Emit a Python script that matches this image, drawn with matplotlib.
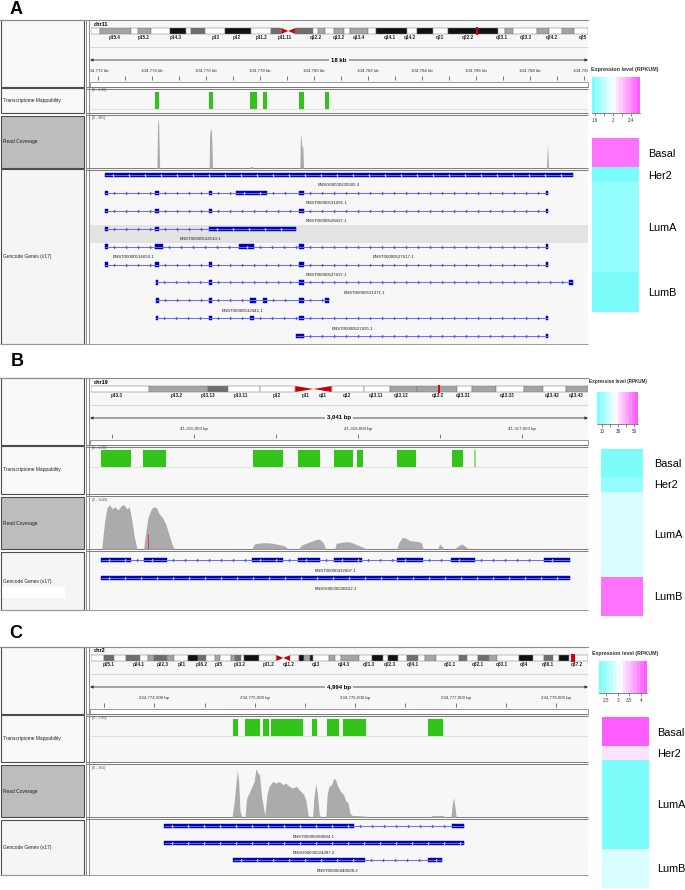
import numpy as np
import matplotlib
matplotlib.use("Agg")
import matplotlib.pyplot as plt
from matplotlib.colors import LinearSegmentedColormap, Normalize
from matplotlib.patches import Rectangle
from matplotlib.path import Path
from matplotlib.cm import ScalarMappable

plt.rcParams['font.family'] = ['Liberation Sans', 'DejaVu Sans']

W, H = 685, 890
SUBTYPES = ['Basal', 'Her2', 'LumA', 'LumB']

# =============================================================================
# PANEL A  (chr11, positions in kb)
# =============================================================================
A_CHROM = 'chr11'
A_VIEW = (104771.72, 104790.16)
A_SPAN = '18 kb'
A_RULER_MINOR = list(range(104772, 104791, 1))
A_RULER_MAJOR = list(range(104772, 104791, 2))
A_BAND_EDGES = [0, .019, .080, .095, .121, .159, .192, .202, .229, .269, .322, .363, .383, .411,
                .446, .457, .471, .489, .509, .522, .558, .573, .635, .655, .688, .719, .818,
                .834, .850, .898, .921, .948, .972, 1.0]
A_BAND_STAIN = 'wgwgwkwdwkwdcdwgwgwgwkwkwkwgwgwgw'
A_MARK = (0.775, 0.779)
A_BAND_NAMES = ['p15.4', 'p15.2', 'p14.3', 'p13', 'p12', 'p11.2', 'p11.11', 'q12.2', 'q13.2',
                'q13.4', 'q14.1', 'q14.2', 'q21', 'q22.2', 'q23.1', 'q23.3', 'q24.2', 'q25']
A_BAND_POS = [.048, .106, .170, .250, .294, .343, .390, .452, .498, .538, .602, .641, .701,
              .759, .826, .874, .927, .989]

A_MAP = [(104774.14, 104774.27), (104776.13, 104776.28), (104777.65, 104777.90),
         (104778.13, 104778.28), (104779.46, 104779.65), (104780.42, 104780.57)]
A_MAP_SCORE = [1, 1, 1, 1, 1, 1]

A_COV_MAX = 465
A_COV_POS = [104771.8, 104774.20, 104774.22, 104774.24, 104774.26, 104774.28, 104774.30,
             104776.13, 104776.15, 104776.18, 104776.21, 104776.23, 104776.26,
             104777.62, 104777.67, 104777.74, 104777.80,
             104778.20, 104778.22, 104778.24,
             104779.49, 104779.51, 104779.53, 104779.56, 104779.60, 104779.63,
             104788.62, 104788.66, 104788.70, 104790.1]
A_COV_VAL = [0, 0, 380, 450, 420, 200, 0,
             0, 300, 363, 340, 250, 0,
             0, 15, 10, 0,
             0, 6, 0,
             0, 280, 293, 200, 190, 0,
             0, 218, 0, 0]

A_TX_NAMES = ['ENSG00000235505.3', 'ENST00000531091.1', 'ENST00000528437.1', 'ENST00000532510.1',
              'ENST00000534659.1', 'ENST00000527617.1', 'ENST00000527637.1', 'ENST00000531371.1',
              'ENST00000532441.1', 'ENST00000527425.1', '']
A_TX_ROWS = [0, 1, 2, 3, 4, 4, 5, 6, 7, 8, 9]
A_TX_EXONS = [
    [(104772.26, 104789.60)],
    [(104772.26, 104772.39), (104774.12, 104774.26), (104776.13, 104776.25), (104777.11, 104778.29),
     (104779.47, 104779.65), (104788.62, 104788.69)],
    [(104772.26, 104772.39), (104774.12, 104774.26), (104776.13, 104776.25), (104779.47, 104779.65),
     (104788.62, 104788.69)],
    [(104772.26, 104772.39), (104774.12, 104774.26), (104776.13, 104779.34)],
    [(104772.26, 104772.39), (104774.12, 104774.44)],
    [(104777.23, 104777.78), (104779.47, 104779.65), (104788.62, 104788.69)],
    [(104772.26, 104772.39), (104774.12, 104774.26), (104776.13, 104776.25), (104779.47, 104779.65),
     (104788.62, 104788.69)],
    [(104774.16, 104774.22), (104776.13, 104776.25), (104779.47, 104779.65), (104789.44, 104789.60)],
    [(104774.16, 104774.26), (104776.13, 104776.25), (104777.63, 104777.88), (104778.12, 104778.29),
     (104779.47, 104779.65), (104780.43, 104780.56)],
    [(104774.16, 104774.22), (104776.13, 104776.25), (104777.63, 104777.78), (104779.47, 104779.65),
     (104788.62, 104788.69)],
    [(104779.34, 104779.65), (104788.62, 104788.69)],
]
A_HIGHLIGHT_ROW = 3

A_EXPR = [2.47, 1.57, 1.63, 1.57]
A_GROUP_SIZE = [29, 15, 90, 40]
A_CBAR_RANGE = (1.53, 2.6)
A_CBAR_TICKS = [1.6, 2.0, 2.4]
A_CBAR_LABELS = ['1.6', '2', '2.4']
A_CBAR_MINOR = [1.8, 2.2]

# =============================================================================
# PANEL B  (chr19, positions in bp)
# =============================================================================
B_CHROM = 'chr19'
B_VIEW = (41314365, 41317402)
B_SPAN = '3,041 bp'
B_RULER_MINOR = list(range(41314500, 41317401, 500))
B_RULER_MAJOR = [41315000, 41316000, 41317000]
B_BAND_EDGES = [0, .116, .236, .276, .340, .411, .484, .549, .601, .656, .736, .767, .814,
                .872, .909, .956, 1.0]
B_BAND_STAIN = 'wgdwwcwwggwgwgwg'
B_MARK = (0.698, 0.703)
B_BAND_NAMES = ['p13.3', 'p13.2', 'p13.13', 'p13.11', 'p12', 'p11', 'q11', 'q12', 'q13.11',
                'q13.12', 'q13.2', 'q13.31', 'q13.33', 'q13.42', 'q13.43']
B_BAND_POS = [.051, .173, .236, .302, .374, .431, .467, .515, .574, .625, .698, .749, .838,
              .927, .976]

B_MAP = [(41314431, 41314614), (41314690, 41314831), (41315359, 41315543), (41315635, 41315770),
         (41315850, 41315966), (41315991, 41316028), (41316236, 41316353), (41316574, 41316641),
         (41316709, 41316721)]
B_MAP_SCORE = [1, 1, 1, 1, 1, 1, 1, 1, 0.45]

B_COV_MAX = 1140
B_COV_POS = [41314436, 41314455, 41314469, 41314485, 41314501, 41314517, 41314536, 41314555,
             41314571, 41314590, 41314604, 41314617, 41314636, 41314652,
             41314692, 41314706, 41314719, 41314738, 41314757, 41314771, 41314787, 41314806,
             41314827, 41314846, 41314865, 41314879,
             41315353, 41315367, 41315399, 41315440, 41315480, 41315521, 41315548, 41315574,
             41315636, 41315655, 41315682, 41315709, 41315742, 41315763, 41315785, 41315804,
             41315858, 41315866, 41315898, 41315939, 41315974, 41316006, 41316055,
             41316235, 41316249, 41316270, 41316289, 41316316, 41316357, 41316384, 41316397,
             41316486, 41316497, 41316508, 41316524,
             41316586, 41316613, 41316632, 41316648, 41316675]
B_COV_VAL = [0, 633, 931, 991, 894, 946, 872, 969, 991, 894, 946, 708, 261, 0,
             0, 410, 708, 894, 946, 916, 782, 708, 559, 335, 112, 0,
             0, 112, 134, 142, 127, 97, 75, 0,
             0, 89, 127, 164, 209, 224, 149, 0,
             0, 127, 149, 164, 127, 75, 0,
             0, 149, 261, 246, 186, 171, 149, 0,
             0, 112, 75, 0,
             0, 75, 112, 75, 0]
B_MISMATCH = (41314717, 335)

B_TX_NAMES = ['ENST00000432607.1', 'ENSG00000230622.1']
B_TX_ROWS = [0, 1]
B_TX_EXONS = [
    [(41314431, 41314612), (41314692, 41314833), (41315353, 41315539), (41315634, 41315766),
     (41315850, 41316022), (41316238, 41316397), (41316567, 41316713), (41317131, 41317292)],
    [(41314431, 41317292)],
]

B_EXPR = [7, 10, 22, 50]
B_GROUP_SIZE = [28, 15, 85, 39]
B_CBAR_RANGE = (4, 55)
B_CBAR_TICKS = [10, 30, 50]
B_CBAR_LABELS = ['10', '30', '50']
B_CBAR_MINOR = [20, 40]

# =============================================================================
# PANEL C  (chr2, positions in bp)
# =============================================================================
C_CHROM = 'chr2'
C_VIEW = (234773359, 234778319)
C_SPAN = '4,994 bp'
C_RULER_MINOR = list(range(234773500, 234778301, 500))
C_RULER_MAJOR = [234774000, 234775000, 234776000, 234777000, 234778000]
C_BAND_EDGES = [0, .027, .046, .071, .098, .115, .126, .153, .166, .195, .215, .231, .250, .259,
                .281, .290, .302, .308, .339, .373, .401, .419, .428, .441, .447, .479, .490,
                .503, .539, .566, .588, .597, .618, .636, .658, .672, .694, .741, .756, .778,
                .800, .817, .862, .889, .911, .929, .942, .962, 1.0]
C_BAND_STAIN = 'wdwdwgdgwkdwgwgdwkwcwkgkwgwgwkwkwdwgwdwdgwkwdwkw'
C_MARK = (0.965, 0.973)
C_BAND_NAMES = ['p25.1', 'p24.1', 'p22.3', 'p21', 'p16.2', 'p15', 'p13.2', 'p11.2', 'q11.2', 'q13',
                'q14.3', 'q21.3', 'q22.3', 'q24.1', 'q31.1', 'q32.1', 'q33.1', 'q34', 'q36.1', 'q37.2']
C_BAND_POS = [.036, .095, .144, .183, .222, .256, .299, .358, .398, .453, .509, .559, .601, .648,
              .722, .778, .827, .871, .920, .978]

C_MAP = [(234774788, 234774832), (234774898, 234775056), (234775087, 234775140),
         (234775157, 234775483), (234775571, 234775615), (234775717, 234775836),
         (234775876, 234776104), (234776725, 234776876)]
C_MAP_SCORE = [1, 1, 1, 1, 1, 1, 1, 1]

C_COV_MAX = 261
C_COV_POS = [234774774, 234774796, 234774814, 234774827, 234774840, 234774853, 234774871,
             234774902, 234774920, 234774946, 234774972, 234774994, 234775012, 234775025,
             234775047, 234775069, 234775087, 234775100, 234775122, 234775144, 234775179,
             234775210, 234775245, 234775281, 234775311, 234775342, 234775378, 234775413,
             234775457, 234775488, 234775510, 234775532, 234775554,
             234775576, 234775589, 234775607, 234775624, 234775642, 234775655,
             234775708, 234775721, 234775739, 234775765, 234775787, 234775805, 234775827,
             234775853, 234775884, 234775906, 234775928, 234775950, 234775972, 234776104,
             234776117,
             234776743, 234776765, 234776875, 234776897,
             234776954, 234776967, 234776981, 234776994, 234777007]
C_COV_VAL = [0, 83, 182, 240, 182, 33, 0,
             0, 99, 124, 157, 182, 248, 231,
             215, 99, 50, 8, 116, 157, 182,
             173, 182, 165, 173, 157, 149, 157,
             132, 116, 83, 8, 0,
             0, 99, 173, 116, 17, 0,
             0, 116, 157, 165, 198, 190, 157,
             132, 116, 83, 74, 17, 8, 5,
             0,
             0, 7, 8, 0,
             0, 66, 99, 50, 0]

C_TX_NAMES = ['ENST00000498684.1', 'ENSG00000224287.2', 'ENST00000440028.2']
C_TX_ROWS = [0, 1, 2]
C_TX_EXONS = [
    [(234774092, 234775985), (234776963, 234777082)],
    [(234774092, 234777082)],
    [(234774783, 234776095), (234776721, 234776866)],
]

C_EXPR = [4.15, 3.32, 2.22, 2.89]
C_GROUP_SIZE = [29, 14, 89, 39]
C_CBAR_RANGE = (2.2, 4.26)
C_CBAR_TICKS = [2.5, 3.0, 3.5, 4.0]
C_CBAR_LABELS = ['2.5', '3', '3.5', '4']
C_CBAR_MINOR = []

# =============================================================================
# LAYOUT (pixel positions of each panel)
# =============================================================================
LAYOUT = {
    'A': dict(letter_xy=(16, 9), top=20, map=(88, 113), cov=(116, 168), gene=(169, 344),
              row0=6, row_step=17.9, heat=(592, 138, 639, 312), cbar=(592, 77, 640, 113),
              title_xy=(591, 69), title_size=3.9, label_pad=6.5, patch=None),
    'B': dict(letter_xy=(17, 362), top=378, map=(446, 494), cov=(497, 549), gene=(552, 610),
              row0=8, row_step=18, heat=(601, 449, 643, 616), cbar=(597, 392, 638, 424),
              title_xy=(589, 381), title_size=3.3, label_pad=8.0, patch=(2, 587, 63, 11)),
    'C': dict(letter_xy=(16, 633), top=647, map=(715, 762), cov=(765, 817), gene=(820, 875),
              row0=6, row_step=17, heat=(602, 717, 649, 888), cbar=(599, 661, 647, 693),
              title_xy=(592, 654), title_size=3.8, label_pad=5.8, patch=None),
}

TX0, TX1 = 90, 588
STAIN_COLORS = {'w': '#ffffff', 'g': '#a4a4a4', 'd': '#6e6e6e', 'k': '#111111'}
EXON_BLUE = '#0000b4'
CMAP = LinearSegmentedColormap.from_list(
    'cyan_white_magenta', [(0, '#7dfcfc'), (0.44, '#ffffff'), (1, '#ff5cff')], N=14)
CHEVRON = Path([(0.5, 1), (-0.5, 0), (0.5, -1)], [Path.MOVETO, Path.LINETO, Path.LINETO])

fig = plt.figure(figsize=(W / 100, H / 100), dpi=100)


def px_axes(x0, y0, x1, y1, off=True):
    ax = fig.add_axes([x0 / W, 1 - y1 / H, (x1 - x0) / W, (y1 - y0) / H])
    if off:
        ax.set_axis_off()
    return ax


ov = px_axes(0, 0, W, H)
ov.set_xlim(0, W)
ov.set_ylim(H, 0)


def draw_frame(lay):
    top = lay['top']
    hdr = (top, top + 67)
    rows = [(hdr, '#f9f9f9', ''),
            (lay['map'], '#f9f9f9', 'Transcriptome Mappability'),
            (lay['cov'], '#bdbdbd', 'Read Coverage'),
            (lay['gene'], '#f5f5f5', 'Gencode Genes (v17)')]
    for (y0, y1), fc, name in rows:
        ov.add_patch(Rectangle((1, y0), 83, y1 - y0, fc=fc, ec='#4d4d4d', lw=0.8))
        ov.add_patch(Rectangle((TX0, y0), TX1 - TX0, y1 - y0, fc='#f7f7f7', ec='none'))
        if name:
            ov.text(3, (y0 + y1) / 2, name, fontsize=3.5, va='center', color='#222222')
    if lay['patch']:
        x, y, w, h = lay['patch']
        ov.add_patch(Rectangle((x, y), w, h, fc='white', ec='none'))
    ov.plot([0, TX1], [top, top], color='#8c8c8c', lw=0.8)
    for y in (hdr[1], lay['map'][1], lay['cov'][1]):
        ov.hlines([y, y + 2.2], 86, TX1, color='#7a7a7a', lw=0.7)
    ov.hlines(lay['gene'][1], 0, TX1, color='#9a9a9a', lw=0.7)
    ov.vlines([86, 89], top, lay['gene'][1], color='#8a8a8a', lw=0.7)
    ov.hlines(top + 27, TX0, TX1, color='#d4d4d4', lw=0.6)
    ov.add_patch(Rectangle((TX0, top + 62), TX1 - TX0, 5, fc='white', ec='#8a8a8a', lw=0.6))


def draw_header(lay, chrom, view, span, minor, major, unit, edges, stain, mark, names, pos):
    top = lay['top']
    ov.text(94, top + 4, chrom, fontsize=4, weight='bold', va='center')
    # ideogram
    ia = px_axes(91, top + 7, TX1, top + 21)
    ia.set_xlim(0, 1)
    ia.set_ylim(14, 0)
    lefts = np.array(edges[:-1])
    widths = np.diff(edges)
    for x, w, s in zip(lefts, widths, stain):
        if s == 'c':
            cm = x + w / 2
            ia.fill([x, x, cm], [1, 7, 4], color='#c80000', lw=0)
            ia.fill([x + w, x + w, cm], [1, 7, 4], color='#c80000', lw=0)
        else:
            ia.bar(x, 6, width=w, bottom=1, align='edge', color=STAIN_COLORS[s],
                   edgecolor='#777777', lw=0.35)
    ia.bar(mark[0], 8, width=mark[1] - mark[0], bottom=0, align='edge', color='#e00000', lw=0)
    for n, p in zip(names, pos):
        ia.text(p, 10.6, n, fontsize=3.3, weight='bold', ha='center', va='center',
                color='#222222', clip_on=True)
    # ruler
    hd = px_axes(TX0, top, TX1, top + 67)
    hd.set_xlim(*view)
    hd.set_ylim(67, 0)
    hd.annotate('', xy=(view[0], 40), xytext=(view[1], 40),
                arrowprops=dict(arrowstyle='<|-|>', color='#333333', lw=0.6,
                                mutation_scale=4, shrinkA=0, shrinkB=0))
    hd.text((view[0] + view[1]) / 2, 40, span, fontsize=4.3, weight='bold', ha='center',
            va='center', bbox=dict(fc='#f7f7f7', ec='none', pad=1.5))
    hd.vlines(minor, 56, 60, color='#444444', lw=0.5)
    for t in major:
        hd.text(t, 51, f'{t:,} {unit}', fontsize=3.2, ha='center', va='center',
                color='#333333', clip_on=True)


def draw_mappability(lay, view, spans, score):
    y0 = lay['map'][0]
    ov.text(92, y0 + 2.5, '[0 - 1.00]', fontsize=2.6, color='#555555', va='center')
    ma = px_axes(TX0, y0 + 4, TX1, y0 + 21)
    ma.set_xlim(*view)
    ma.set_ylim(0, 1)
    colors = ['#33c41a' if s >= 1 else '#8fe07f' for s in score]
    ma.broken_barh([(s, e - s) for s, e in spans], (0, 1), facecolors=colors, lw=0)
    ov.hlines(y0 + 21, TX0, TX1, color='#d6d6d6', lw=0.5)


def draw_coverage(lay, view, cmax, pos, val, mismatch=None):
    y0, y1 = lay['cov']
    ov.text(92, y0 + 2.5, f'[0 - {cmax}]', fontsize=2.6, color='#555555', va='center')
    ca = px_axes(TX0, y0 + 1, TX1, y1)
    ca.set_xlim(*view)
    ca.set_ylim(0, cmax)
    ca.fill_between(pos, val, color='#ababab', lw=0)
    if mismatch:
        ca.vlines(mismatch[0], 0, mismatch[1], color='#d03030', lw=0.6)


def draw_genes(lay, view, names, rows, exons, highlight=None):
    y0, y1 = lay['gene']
    ga = px_axes(TX0, y0, TX1, y1)
    ga.set_xlim(*view)
    ga.set_ylim(y1 - y0, 0)
    upp = (view[1] - view[0]) / (TX1 - TX0)
    row_y = lambda r: lay['row0'] + r * lay['row_step']
    if highlight is not None:
        y = row_y(highlight)
        ga.axhspan(y - 4, y + 14, color='#e3e3e3', lw=0)
    by_row = {}
    for r, ex in zip(rows, exons):
        by_row.setdefault(r, []).extend(ex)
    for r, ex in by_row.items():
        y = row_y(r)
        ex = sorted(ex)
        ga.hlines(y, ex[0][0], ex[-1][1], color='#6a6aff', lw=0.7)
        for (s0, e0), (s1, e1) in zip(ex[:-1], ex[1:]):
            gap = s1 - e0
            if gap > 8 * upp:
                xs = np.arange(e0 + 6 * upp, s1 - 3 * upp, 12 * upp)
                ga.plot(xs, np.full(len(xs), y), ls='none', marker=CHEVRON, ms=2.2,
                        mec='#3030d0', mfc='none', mew=0.5)
    for name, r, ex in zip(names, rows, exons):
        y = row_y(r)
        ga.broken_barh([(s, e - s) for s, e in ex], (y - 2.2, 4.4), facecolor=EXON_BLUE,
                       edgecolor=EXON_BLUE, lw=0.3)
        for s, e in ex:
            if e - s > 12 * upp:
                xs = np.arange(s + 8 * upp, e - 4 * upp, 16 * upp)
                ga.plot(xs, np.full(len(xs), y), ls='none', marker=CHEVRON, ms=2.0,
                        mec='white', mfc='none', mew=0.5)
        if name:
            cx = (ex[0][0] + ex[-1][1]) / 2
            ga.text(cx, y + 10.5, name, fontsize=3.2, ha='center', va='center',
                    color='#222222', clip_on=True)


def draw_expression(lay, values, sizes, crange, ticks, labels, minor):
    norm = Normalize(*crange)
    tx, ty = lay['title_xy']
    ov.text(tx, ty, 'Expression level (RPKUM)', fontsize=lay['title_size'], weight='bold',
            color='#333333', va='center')
    cax = px_axes(*lay['cbar'], off=False)
    cb = fig.colorbar(ScalarMappable(norm=norm, cmap=CMAP), cax=cax, orientation='horizontal')
    cb.set_ticks(ticks, labels=labels)
    if minor:
        cb.ax.set_xticks(minor, minor=True)
    cb.ax.tick_params(which='both', length=2, width=0.4, labelsize=3.3, pad=1.5,
                      color='#333333', labelcolor='#333333')
    cb.outline.set_visible(False)
    cb.ax.axhline(0, color='#555555', lw=0.5, clip_on=False)

    hx0, hy0, hx1, hy1 = lay['heat']
    ha = px_axes(hx0, hy0, hx1, hy1, off=False)
    bounds = np.concatenate([[0], np.cumsum(sizes)])
    ha.pcolormesh([0, 1], bounds, np.array(values)[:, None], cmap=CMAP, norm=norm)
    ha.set_xlim(0, 1)
    ha.set_ylim(bounds[-1], 0)
    ha.set_xticks([])
    ha.set_yticks((bounds[:-1] + bounds[1:]) / 2, labels=SUBTYPES)
    ha.tick_params(axis='y', left=False, right=False, labelleft=False, labelright=True,
                   length=0, labelsize=7.8, pad=lay['label_pad'])
    for sp in ha.spines.values():
        sp.set_visible(False)


def draw_panel(key, d):
    lay = LAYOUT[key]
    ov.text(*lay['letter_xy'], key, fontsize=13, weight='bold', ha='center', va='center')
    draw_frame(lay)
    draw_header(lay, d['chrom'], d['view'], d['span'], d['minor'], d['major'], d['unit'],
                d['edges'], d['stain'], d['mark'], d['band_names'], d['band_pos'])
    draw_mappability(lay, d['view'], d['map'], d['map_score'])
    draw_coverage(lay, d['view'], d['cov_max'], d['cov_pos'], d['cov_val'], d.get('mismatch'))
    draw_genes(lay, d['view'], d['tx_names'], d['tx_rows'], d['tx_exons'], d.get('highlight'))
    draw_expression(lay, d['expr'], d['sizes'], d['crange'], d['cticks'], d['clabels'],
                    d['cminor'])


draw_panel('A', dict(chrom=A_CHROM, view=A_VIEW, span=A_SPAN, minor=A_RULER_MINOR,
                     major=A_RULER_MAJOR, unit='kb', edges=A_BAND_EDGES, stain=A_BAND_STAIN,
                     mark=A_MARK, band_names=A_BAND_NAMES, band_pos=A_BAND_POS, map=A_MAP,
                     map_score=A_MAP_SCORE, cov_max=A_COV_MAX, cov_pos=A_COV_POS,
                     cov_val=A_COV_VAL, tx_names=A_TX_NAMES, tx_rows=A_TX_ROWS,
                     tx_exons=A_TX_EXONS, highlight=A_HIGHLIGHT_ROW, expr=A_EXPR,
                     sizes=A_GROUP_SIZE, crange=A_CBAR_RANGE, cticks=A_CBAR_TICKS,
                     clabels=A_CBAR_LABELS, cminor=A_CBAR_MINOR))
draw_panel('B', dict(chrom=B_CHROM, view=B_VIEW, span=B_SPAN, minor=B_RULER_MINOR,
                     major=B_RULER_MAJOR, unit='bp', edges=B_BAND_EDGES, stain=B_BAND_STAIN,
                     mark=B_MARK, band_names=B_BAND_NAMES, band_pos=B_BAND_POS, map=B_MAP,
                     map_score=B_MAP_SCORE, cov_max=B_COV_MAX, cov_pos=B_COV_POS,
                     cov_val=B_COV_VAL, mismatch=B_MISMATCH, tx_names=B_TX_NAMES,
                     tx_rows=B_TX_ROWS, tx_exons=B_TX_EXONS, expr=B_EXPR,
                     sizes=B_GROUP_SIZE, crange=B_CBAR_RANGE, cticks=B_CBAR_TICKS,
                     clabels=B_CBAR_LABELS, cminor=B_CBAR_MINOR))
draw_panel('C', dict(chrom=C_CHROM, view=C_VIEW, span=C_SPAN, minor=C_RULER_MINOR,
                     major=C_RULER_MAJOR, unit='bp', edges=C_BAND_EDGES, stain=C_BAND_STAIN,
                     mark=C_MARK, band_names=C_BAND_NAMES, band_pos=C_BAND_POS, map=C_MAP,
                     map_score=C_MAP_SCORE, cov_max=C_COV_MAX, cov_pos=C_COV_POS,
                     cov_val=C_COV_VAL, tx_names=C_TX_NAMES, tx_rows=C_TX_ROWS,
                     tx_exons=C_TX_EXONS, expr=C_EXPR, sizes=C_GROUP_SIZE,
                     crange=C_CBAR_RANGE, cticks=C_CBAR_TICKS, clabels=C_CBAR_LABELS,
                     cminor=C_CBAR_MINOR))

fig.savefig('out.png', dpi=100)
